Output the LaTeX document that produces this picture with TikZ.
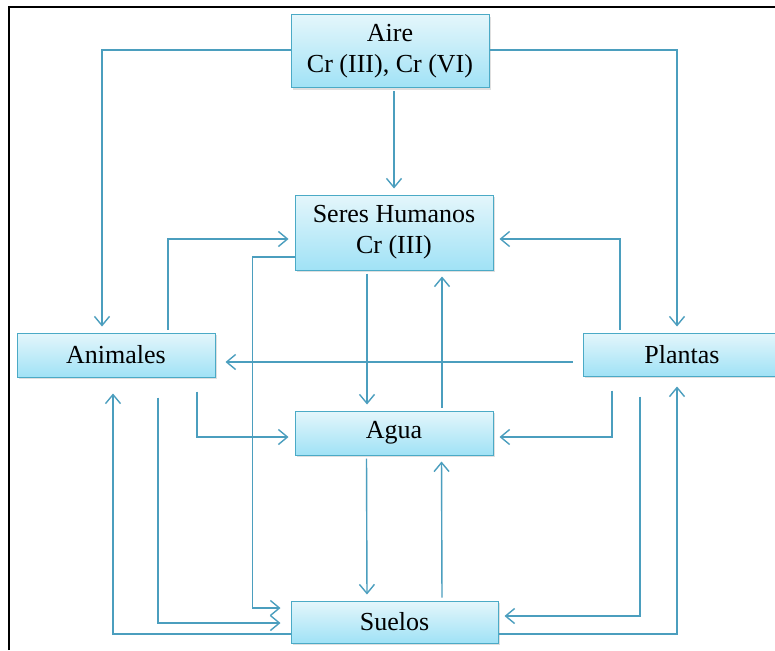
\documentclass[tikz,border=0pt]{standalone}
\usepackage{fontspec}
\setmainfont{Liberation Serif}
\usepackage{tikz}
\usetikzlibrary{arrows.meta, shadows}

\definecolor{edgeblue}{RGB}{75,158,190}
\definecolor{boxline}{RGB}{75,170,198}
\definecolor{boxtop}{RGB}{228,246,251}
\definecolor{boxbot}{RGB}{160,226,246}

\begin{document}
\begin{tikzpicture}[
    x = 1pt, y = -1pt,
    box/.style = {draw = boxline, line width = 1pt,
      top color = boxtop, bottom color = boxbot,
      drop shadow = {shadow xshift = 1.5pt, shadow yshift = -2pt, opacity = 0.25},
      minimum width = 198pt, align = center, inner sep = 0pt,
      font = \fontsize{26}{31}\selectfont},
    flow/.style = {draw = edgeblue, line width = 1.4pt,
      -{Straight Barb[length = 9pt, width = 15pt]},
      shorten > = 6pt, shorten < = 3pt},
    plain/.style = {draw = edgeblue, line width = 1.4pt}
  ]
  \clip (0,0) rectangle (775,650);
  \fill[white] (0,0) rectangle (775,650);

  % frame (cut off right and bottom)
  \draw[line width = 2.8pt] (9,650) -- (9,7) -- (780,7);

  % boxes
  \node[box, minimum height = 73pt] (Aire)  at (390,51.5) {Aire\\Cr (III), Cr (VI)};
  \node[box, minimum height = 75pt] (Seres) at (394,232.5) {Seres Humanos\\Cr (III)};
  \node[box, minimum height = 44pt] (Animales) at (116,355) {Animales};
  \node[box, minimum height = 43pt] (Plantas)  at (682,354.5) {Plantas};
  \node[box, minimum height = 44pt] (Agua)     at (394,433) {Agua};
  \node[box, minimum height = 42pt, minimum width = 207pt] (Suelos) at (394.5,622) {Suelos};

  % from Aire
  \draw[flow, shorten < = 0pt] ([yshift = 1.5pt]Aire.west) -| ([xshift = -14pt]Animales.north);
  \draw[flow, shorten < = 0pt] ([yshift = 1.5pt]Aire.east) -| ([xshift = -5pt]Plantas.north);
  \draw[flow] (Aire.south -| Seres.north) -- (Seres.north);

  % into Seres Humanos
  \draw[flow] ([xshift = 52pt]Animales.north) |- ([yshift = -6.5pt]Seres.west);
  \draw[flow] ([xshift = -62pt]Plantas.north) |- ([yshift = -6.5pt]Seres.east);
  \draw[flow] ([xshift = -27pt]Seres.south) -- ([xshift = -27pt]Agua.north);
  \draw[flow] ([xshift = 48pt]Agua.north) -- ([xshift = 48pt]Seres.south);
  \draw[flow, shorten < = 0pt, shorten > = 10pt]
    ([yshift = -24.5pt]Seres.west) -- ++(-42,0) |- ([yshift = 14pt]Suelos.west);

  % Plantas to Animales
  \draw[flow, shorten < = 10pt, shorten > = 10pt]
    ([yshift = -7.5pt]Plantas.west) -- ([yshift = -7pt]Animales.east);

  % into Agua
  \draw[flow, shorten < = 14pt] ([xshift = 81pt]Animales.south) |- ([yshift = -4pt]Agua.west);
  \draw[flow, shorten < = 14pt] ([xshift = -70pt]Plantas.south) |- ([yshift = -4pt]Agua.east);
  \draw[flow] ([xshift = -27.5pt]Agua.south) -- ([xshift = -27.5pt]Suelos.north);
  \draw[flow] ([xshift = 47.5pt]Suelos.north) -- ([xshift = 47.5pt]Agua.south);

  % into and out of Suelos
  \draw[flow, shorten < = 20pt, shorten > = 10pt]
    ([xshift = 42pt]Animales.south) |- ([yshift = -1pt]Suelos.west);
  \draw[flow, shorten < = 0pt, shorten > = 16pt]
    ([yshift = -12pt]Suelos.west) -| ([xshift = -3pt]Animales.south);
  \draw[flow, shorten < = 20pt] ([xshift = -42pt]Plantas.south) |- ([yshift = 6pt]Suelos.east);
  \draw[flow, shorten < = 0pt, shorten > = 10pt]
    ([yshift = -12pt]Suelos.east) -| ([xshift = -5pt]Plantas.south);
\end{tikzpicture}
\end{document}
